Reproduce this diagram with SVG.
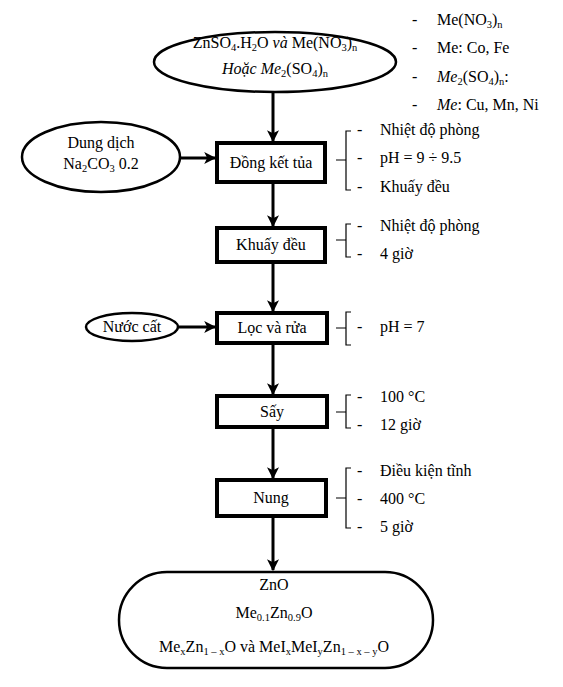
<svg xmlns="http://www.w3.org/2000/svg" width="563" height="687" viewBox="0 0 563 687">
<style>
text{font-family:"Liberation Serif","DejaVu Serif","Times New Roman",serif;font-size:16px;fill:#000}
.c{text-anchor:middle}
.s{font-size:10.5px}
.i{font-style:italic}
.box{fill:#fff;stroke:#000;stroke-width:4}
.ell{fill:#fff;stroke:#000;stroke-width:2.5}
.con{stroke:#000;stroke-width:3;fill:none;marker-end:url(#ah)}
.br{stroke:#000;stroke-width:1.2;fill:none}
</style>
<defs>
<marker id="ah" viewBox="0 0 10 10" refX="9" refY="5" markerWidth="4" markerHeight="4" orient="auto" markerUnits="strokeWidth">
<path d="M0,0 L10,5 L0,10 L2.5,5 z" fill="#000"/>
</marker>
</defs>
<rect width="563" height="687" fill="#fff"/>
<g id="connectors">
<line class="con" x1="273" y1="92" x2="273" y2="141"/>
<line class="con" x1="180" y1="158" x2="215" y2="158"/>
<line class="con" x1="273" y1="184" x2="273" y2="226"/>
<line class="con" x1="273" y1="264" x2="273" y2="311"/>
<line class="con" x1="178" y1="327" x2="215" y2="327"/>
<line class="con" x1="273" y1="345" x2="273" y2="394"/>
<line class="con" x1="273" y1="429" x2="273" y2="478"/>
<line class="con" x1="273" y1="518" x2="273" y2="570"/>
</g>
<g id="start">
<ellipse class="ell" cx="275" cy="62" rx="121" ry="30"/>
<text class="c" x="275" y="48">ZnSO<tspan class="s" dy="3">4</tspan><tspan dy="-3">.H</tspan><tspan class="s" dy="3">2</tspan><tspan dy="-3">O </tspan><tspan class="i">và</tspan> Me(NO<tspan class="s" dy="3">3</tspan><tspan dy="-3">)</tspan><tspan class="s" dy="3">n</tspan></text>
<text class="c" x="275" y="74"><tspan class="i">Hoặc Me</tspan><tspan class="s" dy="3">2</tspan><tspan dy="-3">(SO</tspan><tspan class="s" dy="3">4</tspan><tspan dy="-3">)</tspan><tspan class="s" dy="3">n</tspan></text>
</g>
<g id="notes-top">
<text x="412" y="25">-</text><text x="437" y="25">Me(NO<tspan class="s" dy="3">3</tspan><tspan dy="-3">)</tspan><tspan class="s" dy="3">n</tspan></text>
<text x="412" y="53">-</text><text x="437" y="53">Me: Co, Fe</text>
<text x="412" y="82">-</text><text x="437" y="82"><tspan class="i">Me</tspan><tspan class="s" dy="3">2</tspan><tspan dy="-3">(SO</tspan><tspan class="s" dy="3">4</tspan><tspan dy="-3">)</tspan><tspan class="s" dy="3">n</tspan><tspan dy="-3">:</tspan></text>
<text x="412" y="110">-</text><text x="437" y="110"><tspan class="i">Me</tspan>: Cu, Mn, Ni</text>
</g>
<g id="dungdich">
<ellipse class="ell" cx="101" cy="157" rx="79" ry="35"/>
<text class="c" x="101" y="148">Dung dịch</text>
<text class="c" x="101" y="169">Na<tspan class="s" dy="3">2</tspan><tspan dy="-3">CO</tspan><tspan class="s" dy="3">3</tspan><tspan dy="-3"> 0.2</tspan></text>
</g>
<g id="dongkettua">
<rect class="box" x="217" y="143" width="108" height="39"/>
<text class="c" x="271" y="168">Đồng kết tủa</text>
</g>
<g id="notes1">
<path class="br" d="M351,131 H346 V190 H351 M346,160 H336"/>
<text x="357" y="135">-</text><text x="380" y="135">Nhiệt độ phòng</text>
<text x="357" y="163">-</text><text x="380" y="163">pH = 9 ÷ 9.5</text>
<text x="357" y="192">-</text><text x="380" y="192">Khuấy đều</text>
</g>
<g id="khuaydeu">
<rect class="box" x="217" y="228" width="108" height="34"/>
<text class="c" x="271" y="250">Khuấy đều</text>
</g>
<g id="notes2">
<path class="br" d="M351,224 H346 V257 H351 M346,240 H336"/>
<text x="357" y="231">-</text><text x="380" y="231">Nhiệt độ phòng</text>
<text x="357" y="259">-</text><text x="380" y="259">4 giờ</text>
</g>
<g id="nuoccat">
<ellipse class="ell" cx="132" cy="327" rx="46" ry="14"/>
<text class="c" x="132" y="332">Nước cất</text>
</g>
<g id="locvarua">
<rect class="box" x="217" y="313" width="110" height="30"/>
<text class="c" x="272" y="333">Lọc và rửa</text>
</g>
<g id="notes3">
<path class="br" d="M351,312 H346 V345 H351 M346,328 H336"/>
<text x="357" y="332">-</text><text x="380" y="332">pH = 7</text>
</g>
<g id="say">
<rect class="box" x="217" y="396" width="110" height="31"/>
<text class="c" x="272" y="417">Sấy</text>
</g>
<g id="notes4">
<path class="br" d="M351,395 H346 V428 H351 M346,412 H336"/>
<text x="357" y="402">-</text><text x="380" y="402">100 °C</text>
<text x="357" y="430">-</text><text x="380" y="430">12 giờ</text>
</g>
<g id="nung">
<rect class="box" x="217" y="480" width="109" height="36"/>
<text class="c" x="271" y="503">Nung</text>
</g>
<g id="notes5">
<path class="br" d="M351,468 H346 V528 H351 M346,498 H336"/>
<text x="357" y="476">-</text><text x="380" y="476">Điều kiện tĩnh</text>
<text x="357" y="504">-</text><text x="380" y="504">400 °C</text>
<text x="357" y="532">-</text><text x="380" y="532">5 giờ</text>
</g>
<g id="product">
<rect class="ell" x="119" y="572" width="314" height="96" rx="48" ry="48"/>
<text class="c" x="274" y="590">ZnO</text>
<text class="c" x="274" y="618">Me<tspan class="s" dy="3">0.1</tspan><tspan dy="-3">Zn</tspan><tspan class="s" dy="3">0.9</tspan><tspan dy="-3">O</tspan></text>
<text class="c" x="274" y="652">Me<tspan class="s" dy="3">x</tspan><tspan dy="-3">Zn</tspan><tspan class="s" dy="3">1 – x</tspan><tspan dy="-3">O và MeI</tspan><tspan class="s" dy="3">x</tspan><tspan dy="-3">MeI</tspan><tspan class="s" dy="3">y</tspan><tspan dy="-3">Zn</tspan><tspan class="s" dy="3">1 – x – y</tspan><tspan dy="-3">O</tspan></text>
</g>
</svg>
